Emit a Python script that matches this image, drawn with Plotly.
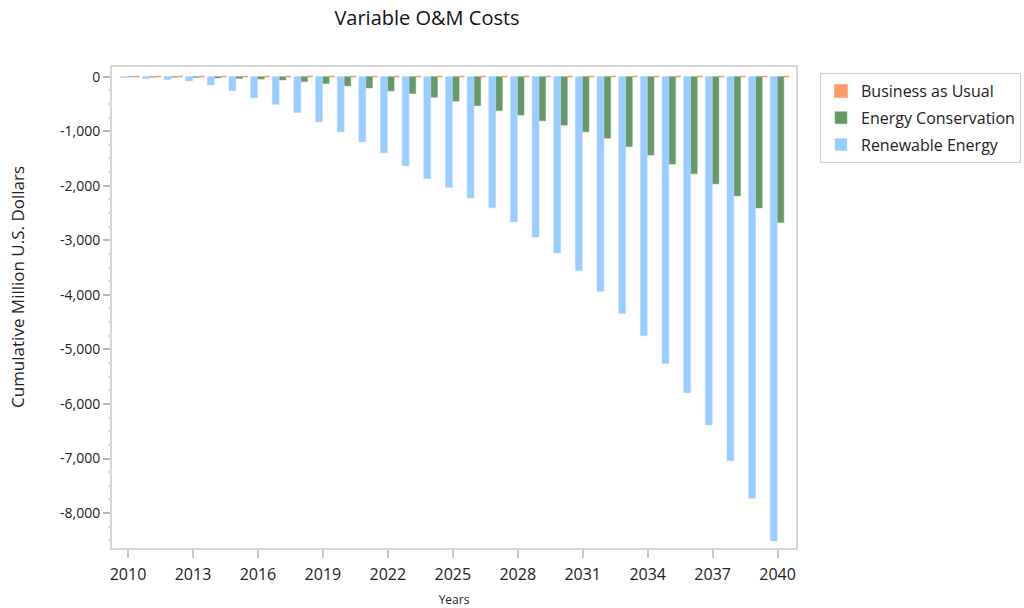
import plotly.graph_objects as go

# Years on the category axis
years = [2010, 2011, 2012, 2013, 2014, 2015, 2016, 2017, 2018, 2019,
         2020, 2021, 2022, 2023, 2024, 2025, 2026, 2027, 2028, 2029,
         2030, 2031, 2032, 2033, 2034, 2035, 2036, 2037, 2038, 2039, 2040]

# Cumulative variable O&M cost change, million U.S. dollars
business_as_usual = [0, 0, 0, 0, 0, 0, 0, 0, 0, 0,
                     0, 0, 0, 0, 0, 0, 0, 0, 0, 0,
                     0, 0, 0, 0, 0, 0, 0, 0, 0, 0, 0]
energy_conservation = [-5, -10, -12, -14, -25, -35, -45, -62, -92, -128,
                       -171, -208, -263, -311, -379, -450, -533, -625, -705, -810,
                       -890, -1013, -1130, -1284, -1438, -1604, -1780, -1967, -2187, -2407,
                       -2674]
renewable_energy = [-18, -37, -55, -80, -153, -258, -391, -508, -660, -831,
                    -1014, -1197, -1398, -1637, -1868, -2033, -2223, -2406, -2663, -2943,
                    -3231, -3560, -3938, -4341, -4751, -5257, -5795, -6387, -7040, -7729,
                    -8511]

x_ticks = [2010, 2013, 2016, 2019, 2022, 2025, 2028, 2031, 2034, 2037, 2040]
y_ticks = [0, -1000, -2000, -3000, -4000, -5000, -6000, -7000, -8000]
y_tick_text = [f"{v:,}" for v in y_ticks]

FONT = "Open Sans, Noto Sans, sans-serif"
TEXT = "#222222"
FRAME = "#d6d6d6"

fig = go.Figure()
fig.add_trace(go.Bar(
    x=years, y=business_as_usual, name="Business as Usual", legendgroup="bau",
    width=0.25, offset=0.29,
    marker=dict(color="#FF9966", line=dict(color="#FF9966", width=1.5)),
))
fig.add_trace(go.Bar(
    x=years, y=energy_conservation, name="Energy Conservation", legendgroup="ec",
    width=0.31, offset=-0.02,
    marker=dict(color="#669966", line=dict(color="#7aa87a", width=0.5)),
))
fig.add_trace(go.Bar(
    x=years, y=renewable_energy, name="Renewable Energy", legendgroup="re",
    width=0.32, offset=-0.34,
    marker=dict(color="#99CCFF", line=dict(color="#b3d9ff", width=0.5)),
))

fig.update_layout(
    width=1024, height=608,
    margin=dict(l=112, r=228, t=67, b=60, autoexpand=False),
    barmode="overlay",
    paper_bgcolor="white", plot_bgcolor="white",
    font=dict(family=FONT, color=TEXT),
    title=dict(text="Variable O&M Costs", x=427 / 1024, xref="container", xanchor="center",
               y=1 - 18 / 608, yref="container", yanchor="middle",
               font=dict(size=20, color="#111111")),
    legend=dict(xref="container", x=820 / 1024, xanchor="left",
                yref="container", y=1 - 73 / 608, yanchor="top",
                bordercolor="#cccccc", borderwidth=1, bgcolor="white",
                font=dict(size=16, color=TEXT), traceorder="grouped",
                tracegroupgap=3, itemclick=False),
    showlegend=True,
    annotations=[dict(
        text="Cumulative Million U.S. Dollars", textangle=-90,
        xref="paper", x=-95 / 684, xanchor="center",
        yref="paper", y=(548 - 287) / 481, yanchor="middle",
        showarrow=False, font=dict(size=17, color=TEXT),
    )],
)

fig.update_xaxes(
    range=[2009.26, 2040.85], automargin=False,
    tickmode="array", tickvals=x_ticks, ticktext=[str(v) for v in x_ticks],
    ticks="outside", ticklen=8, tickwidth=2, tickcolor="#c8c8c8",
    tickfont=dict(size=16, color=TEXT), ticklabelstandoff=3,
    showline=True, linecolor=FRAME, linewidth=2, mirror=True,
    showgrid=False, zeroline=False,
    title=dict(text="Years", font=dict(size=12, color=TEXT), standoff=16),
)
fig.update_yaxes(
    range=[-8640, 176], automargin=False,
    tickmode="array", tickvals=y_ticks, ticktext=y_tick_text,
    ticks="outside", ticklen=7, tickwidth=1.5, tickcolor="#bbbbbb",
    tickfont=dict(size=14, color=TEXT),
    minor=dict(tickmode="linear", tick0=0, dtick=250, ticks="outside",
               ticklen=2, tickcolor="#dddddd", showgrid=False),
    showline=True, linecolor=FRAME, linewidth=2, mirror=True,
    showgrid=False, zeroline=False,
)

fig.write_html("out.html")
